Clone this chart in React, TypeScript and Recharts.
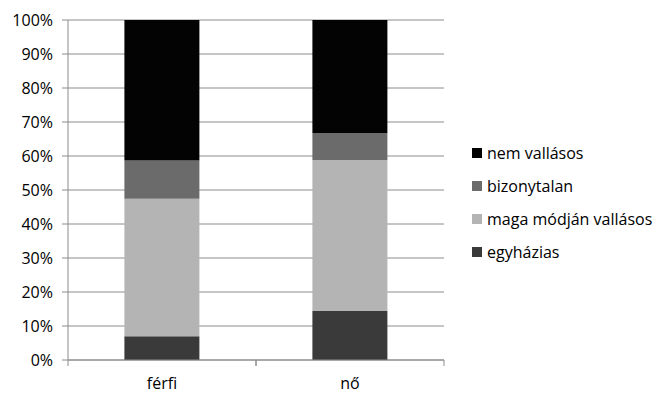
import { BarChart, Bar, XAxis, YAxis, CartesianGrid, Legend } from 'recharts'

const categories = ['férfi', 'nő']
const egyhazias = [7.0, 14.4]
const magaModjan = [40.4, 44.4]
const bizonytalan = [11.3, 8.0]
const nemVallasos = [41.3, 33.2]
const yTicks = [0, 10, 20, 30, 40, 50, 60, 70, 80, 90, 100]

// stacking order bottom -> top
const SERIES = [
  { key: 'egyhazias', label: 'egyházias', color: '#3a3a3a', values: egyhazias },
  { key: 'maga', label: 'maga módján vallásos', color: '#b4b4b4', values: magaModjan },
  { key: 'bizonytalan', label: 'bizonytalan', color: '#6b6b6b', values: bizonytalan },
  { key: 'nem', label: 'nem vallásos', color: '#030303', values: nemVallasos },
]

const data = categories.map((name, i) => {
  const row: Record<string, string | number> = { name }
  SERIES.forEach((s) => {
    row[s.key] = s.values[i]
  })
  return row
})

const FONT = '"Open Sans", Lato, sans-serif'
const GRID = '#8c8c8c'
const X_TICK_MARGIN = 18

// category label plus Excel-style tick marks on the band edges
function CategoryTick(props: any) {
  const { x, y, payload } = props
  const half = payload.offset ?? 0
  const axisY = y - X_TICK_MARGIN
  return (
    <g>
      <line x1={x - half} x2={x - half} y1={axisY} y2={axisY + 6} stroke={GRID} />
      <line x1={x + half} x2={x + half} y1={axisY} y2={axisY + 6} stroke={GRID} />
      <text x={x} y={y} dy="0.71em" textAnchor="middle" fill="#000" fontSize={16} fontFamily={FONT}>
        {payload.value}
      </text>
    </g>
  )
}

function LegendBox() {
  return (
    <div style={{ fontFamily: FONT, fontSize: 16, color: '#000' }}>
      {[...SERIES].reverse().map((s) => (
        <div key={s.key} style={{ display: 'flex', alignItems: 'center', height: 33 }}>
          <span style={{ width: 10, height: 10, background: s.color, marginRight: 5 }} />
          <span>{s.label}</span>
        </div>
      ))}
    </div>
  )
}

export default function App() {
  return (
    <div style={{ position: 'absolute', left: 0, top: 0, width: 661, height: 393, background: '#fff' }}>
      <BarChart
        width={661}
        height={393}
        data={data}
        barCategoryGap="30%"
        margin={{ top: 20, right: 27, bottom: 0, left: 0 }}
      >
        <CartesianGrid vertical={false} stroke={GRID} strokeWidth={1} />
        <XAxis
          dataKey="name"
          height={33}
          axisLine={{ stroke: GRID }}
          tickLine={false}
          tickSize={0}
          tickMargin={X_TICK_MARGIN}
          tick={<CategoryTick />}
        />
        <YAxis
          width={68}
          domain={[0, 100]}
          ticks={yTicks}
          interval={0}
          allowDataOverflow
          tickFormatter={(v) => `${v}%`}
          axisLine={{ stroke: GRID }}
          tickLine={{ stroke: GRID }}
          tickSize={6}
          tickMargin={9}
          tick={{ fill: '#000', fontSize: 16, fontFamily: FONT }}
        />
        <Legend
          layout="vertical"
          align="right"
          verticalAlign="middle"
          wrapperStyle={{ left: 472, top: 136, width: 190 }}
          content={() => <LegendBox />}
        />
        {SERIES.map((s) => (
          <Bar
            key={s.key}
            dataKey={s.key}
            stackId="a"
            fill={s.color}
            isAnimationActive={false}
          />
        ))}
      </BarChart>
    </div>
  )
}
